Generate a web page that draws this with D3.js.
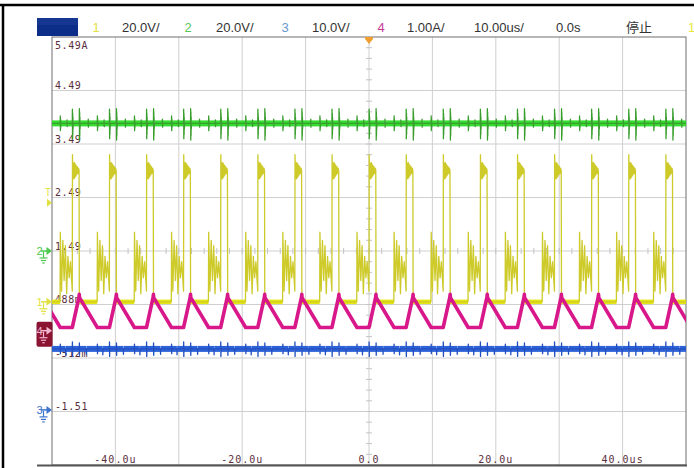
<!DOCTYPE html>
<html><head><meta charset="utf-8">
<script src="https://cdn.jsdelivr.net/npm/d3@7"></script>
<style>html,body{margin:0;padding:0;background:#fff;overflow:hidden}</style>
</head><body>
<svg id="c" width="694" height="468"></svg>
<script>
// ---------------- data ----------------
// time axis (microseconds)
const timeDomain = [-50, 50];
const gridTimes = [-40, -30, -20, -10, 0, 10, 20, 30, 40];
const timeLabelValues = [-40, -20, 0, 20, 40];
const timeLabelTexts = ["-40.0u", "-20.0u", "0.0", "20.0u", "40.0us"];
// vertical divisions and channel-4 level labels
const divDomain = [-4, 4];
const gridDivs = [-3, -2, -1, 0, 1, 2, 3];
const levelDivs = [4, 3, 2, 1, 0, -1, -2, -3];
const levelTexts = ["5.49A", "4.49", "3.49", "2.49", "1.49", "488m", "-512m", "-1.51"];
// header
const headerTexts = ["1", "20.0V/", "2", "20.0V/", "3", "10.0V/", "4", "1.00A/", "10.00us/", "0.0s", "停止", "1"];
// channel settings: ground offset (div) and scale (units/div)
const chOffsets = {1: -0.95, 2: 0, 3: -2.97, 4: -1.49};
const chPerDiv = {1: 20, 2: 20, 3: 10, 4: 1};
const triggerLevelV = 37;          // ch1 trigger level
// rising edges of the switching waveform (us)
const edgeTimes = [-52.65, -46.8, -40.95, -35.1, -29.25, -23.4, -17.55, -11.7, -5.85,
                   0, 5.85, 11.7, 17.55, 23.4, 29.25, 35.1, 40.95, 46.8];
// one switching period of each channel: [time after edge (us), value]
const ch1Shape = [ // volts
  [0.00, 4], [0.03, 55], [0.06, 50], [0.10, 46], [0.14, 52], [0.19, 46.5], [0.24, 51.5], [0.29, 46],
  [0.35, 52], [0.41, 46.5], [0.47, 51.5], [0.54, 47], [0.61, 51], [0.69, 47.5], [0.78, 50.5],
  [0.88, 48], [0.98, 50], [1.07, 49],
  [1.11, 0], [3.92, 0],
  [3.96, 26], [4.16, 4], [4.36, 23], [4.56, 8], [4.76, 21], [4.96, 3], [5.16, 17],
  [5.36, 9], [5.56, 15], [5.80, 6]
];
const ch2Shape = [ // volts
  [0.00, 47.7], [0.02, 53], [0.04, 42], [0.06, 51.5], [0.08, 43.5], [0.10, 50], [0.12, 45.5], [0.15, 47.7],
  [1.10, 47.7], [1.12, 53.2], [1.14, 41.5], [1.16, 52], [1.18, 43], [1.20, 50], [1.22, 45.5], [1.25, 47.7],
  [2.50, 47.7], [2.52, 49.3], [2.54, 46.3], [2.56, 47.7],
  [3.94, 47.7], [3.96, 50.5], [3.98, 45], [4.00, 49.5], [4.02, 46], [4.04, 47.7],
  [5.00, 47.7], [5.02, 49], [5.04, 46.5], [5.06, 47.7], [5.80, 47.7]
];
const ch3Shape = [ // volts
  [0.00, 11.4], [0.02, 12.7], [0.04, 10.0], [0.06, 11.4],
  [1.10, 11.4], [1.12, 12.5], [1.14, 10.2], [1.16, 11.4],
  [2.20, 11.4], [2.22, 10.4], [2.24, 11.4],
  [3.94, 11.4], [3.96, 12.3], [3.98, 10.5], [4.00, 11.4],
  [4.80, 11.4], [4.82, 10.3], [4.84, 11.4], [5.80, 11.4]
];
const ch4Shape = [ // amps
  [0.00, 0.06], [1.06, 0.63], [1.10, 0.68], [1.14, 0.62], [3.95, 0.06], [5.80, 0.06]
];

// ---------------- layout ----------------
const W = 694, H = 468;
const X0 = 52, X1 = 686, Y0 = 37, Y1 = 465;
const headerX = [96, 122, 188, 216, 285, 312, 381, 407, 474, 556, 626, 688];
const headerColors = ["#e2e24a", "#333", "#58c858", "#333", "#6a98cf", "#333", "#c8399a", "#333", "#333", "#333", "#333", "#e8e83a"];

const svg = d3.select("#c");
svg.append("rect").attr("width", W).attr("height", H).attr("fill", "#fff");

const x = d3.scaleLinear().domain(timeDomain).range([X0, X1]);
const yDiv = d3.scaleLinear().domain(divDomain).range([Y1, Y0]);
const yCh = ch => v => yDiv(chOffsets[ch] + v / chPerDiv[ch]);

// outer black frame of the screenshot
svg.append("line").attr("x1", 0).attr("x2", W).attr("y1", 5).attr("y2", 5).attr("stroke", "#000").attr("stroke-width", 2.5);
svg.append("line").attr("x1", 3).attr("x2", 3).attr("y1", 4).attr("y2", H).attr("stroke", "#000").attr("stroke-width", 2.5);

// header
svg.append("rect").attr("x", 37).attr("y", 18).attr("width", 41).attr("height", 18).attr("fill", "#0d2e88");
svg.append("rect").attr("x", 37).attr("y", 18).attr("width", 41).attr("height", 7).attr("fill", "#1a3d9a").attr("opacity", 0.6);
svg.append("g").selectAll("text").data(headerTexts).join("text")
  .attr("x", (d, i) => headerX[i]).attr("y", 32)
  .attr("text-anchor", (d, i) => (i === 0 || i === 2 || i === 4 || i === 6) ? "middle" : "start")
  .attr("fill", (d, i) => headerColors[i])
  .style("font-family", (d) => /[\u4e00-\u9fff]/.test(d) ? "'Noto Sans CJK SC'" : "'Liberation Sans', Arial")
  .style("font-size", "13px")
  .text(d => d);

// grid
const grid = svg.append("g");
grid.selectAll("line.v").data(gridTimes).join("line").attr("class", "v")
  .attr("x1", d => x(d)).attr("x2", d => x(d)).attr("y1", Y0).attr("y2", Y1)
  .attr("stroke", "#cfcfcf").attr("stroke-width", 1);
grid.selectAll("line.h").data(gridDivs).join("line").attr("class", "h")
  .attr("x1", X0).attr("x2", X1).attr("y1", d => yDiv(d)).attr("y2", d => yDiv(d))
  .attr("stroke", "#cfcfcf").attr("stroke-width", 1);
// minor ticks on center lines
const minorDivs = d3.range(-3.8, 4, 0.2);
grid.selectAll("line.mv").data(minorDivs).join("line").attr("class", "mv")
  .attr("x1", x(0) - 3).attr("x2", x(0) + 3).attr("y1", d => yDiv(d)).attr("y2", d => yDiv(d))
  .attr("stroke", "#c4c4c4");
const minorTimes = d3.range(-48, 50, 2);
grid.selectAll("line.mh").data(minorTimes).join("line").attr("class", "mh")
  .attr("x1", d => x(d)).attr("x2", d => x(d)).attr("y1", yDiv(0) - 3).attr("y2", yDiv(0) + 3)
  .attr("stroke", "#c4c4c4");

// frame
svg.append("rect").attr("x", X0).attr("y", Y0).attr("width", X1 - X0).attr("height", Y1 - Y0)
  .attr("fill", "none").attr("stroke", "#6e6e6e").attr("stroke-width", 1);
svg.append("line").attr("x1", 37).attr("x2", X1 + 1).attr("y1", Y1 + 0.5).attr("y2", Y1 + 0.5)
  .attr("stroke", "#555").attr("stroke-width", 2);

// level labels (ch4) and time labels
const labFont = "'DejaVu Sans Mono', monospace";
svg.append("g").selectAll("text").data(levelDivs).join("text")
  .attr("x", 55)
  .attr("y", (d, i) => i === 0 ? Y0 + 12 : yDiv(d) - 1.5)
  .attr("fill", "#5a2d3c").style("font-family", labFont).style("font-size", "10px")
  .style("letter-spacing", "0.6px")
  .text((d, i) => levelTexts[i]);
svg.append("g").selectAll("text").data(timeLabelValues).join("text")
  .attr("x", d => x(d)).attr("y", 463).attr("text-anchor", "middle")
  .attr("fill", "#5a2d3c").style("font-family", labFont).style("font-size", "10px")
  .style("letter-spacing", "1px")
  .text((d, i) => timeLabelTexts[i]);

// traces
svg.append("clipPath").attr("id", "plot").append("rect")
  .attr("x", X0).attr("y", Y0).attr("width", X1 - X0).attr("height", Y1 - Y0);
const traces = svg.append("g").attr("clip-path", "url(#plot)");

function build(shape) {
  const pts = [];
  edgeTimes.forEach(e => shape.forEach(([dt, v]) => pts.push([e + dt, v])));
  return pts;
}
function flats(pts) {
  const segs = [];
  for (let i = 1; i < pts.length; i++) {
    if (pts[i][1] === pts[i - 1][1] && pts[i][0] - pts[i - 1][0] > 0.3) segs.push([pts[i - 1], pts[i]]);
  }
  return segs;
}
function drawChannel(ch, shape, thinColor, thinW, bandColor, bandW) {
  const pts = build(shape);
  const yf = yCh(ch);
  const line = d3.line().x(d => x(d[0])).y(d => yf(d[1]));
  if (bandColor) {
    traces.append("g").selectAll("line").data(flats(pts)).join("line")
      .attr("x1", d => x(d[0][0])).attr("x2", d => x(d[1][0]))
      .attr("y1", d => yf(d[0][1])).attr("y2", d => yf(d[1][1]))
      .attr("stroke", bandColor).attr("stroke-width", bandW);
  }
  traces.append("path").datum(pts).attr("d", line)
    .attr("fill", "none").attr("stroke", thinColor).attr("stroke-width", thinW)
    .attr("stroke-linejoin", "round");
}
drawChannel(3, ch3Shape, "#2350c0", 1.3, "#2d62d8", 6);
drawChannel(1, ch1Shape, "#cdca2a", 1.3, "#e6e612", 4.5);
drawChannel(2, ch2Shape, "#3a9e2e", 1.3, "#34dc30", 6);
drawChannel(4, ch4Shape, "#d8188a", 3.6, null, 0);

// trigger position marker
svg.append("path")
  .attr("d", `M${x(0) - 4},${Y0}L${x(0) + 4},${Y0}L${x(0) + 4},${Y0 + 2}L${x(0)},${Y0 + 7}L${x(0) - 4},${Y0 + 2}Z`)
  .attr("fill", "#f0a030");

// channel ground markers
const mk = svg.append("g");
function ground(g, cx, y, color) {
  g.append("line").attr("x1", cx).attr("x2", cx).attr("y1", y).attr("y2", y + 6).attr("stroke", color).attr("stroke-width", 1.2);
  [[4, 6], [2.6, 8.5], [1.2, 11]].forEach(([hw, dy]) =>
    g.append("line").attr("x1", cx - hw).attr("x2", cx + hw).attr("y1", y + dy).attr("y2", y + dy)
      .attr("stroke", color).attr("stroke-width", 1.2));
}
function marker(ch, label, color, opts = {}) {
  const y = yCh(ch)(0);
  if (opts.box) {
    mk.append("rect").attr("x", 36.5).attr("y", y - 9).attr("width", 16).attr("height", 25).attr("rx", 2).attr("fill", opts.box);
  }
  mk.append("text").attr("x", 36.5).attr("y", y + 4).attr("fill", color)
    .style("font-family", "'Liberation Sans', Arial").style("font-size", "11px").text(label);
  mk.append("line").attr("x1", 41).attr("x2", 48).attr("y1", y).attr("y2", y).attr("stroke", color).attr("stroke-width", 1.5);
  mk.append("path").attr("d", `M46.5,${y - 4}L52,${y}L46.5,${y + 4}Z`).attr("fill", color);
  ground(mk, 43.5, y + 1, color);
}
marker(2, "2", "#4cc84c");
marker(1, "1", "#e0e040");
marker(4, "4", "#f3b6cf", {box: "#8a1432"});
marker(3, "3", "#3f72cc");
// trigger level marker
const ty = yCh(1)(triggerLevelV);
mk.append("text").attr("x", 45).attr("y", ty - 7).attr("fill", "#e0e040")
  .style("font-family", "'Liberation Sans', Arial").style("font-size", "10px").text("T");
mk.append("path").attr("d", `M47,${ty - 4}L52,${ty}L47,${ty + 4}Z`).attr("fill", "#e0e040");
</script>
</body></html>
